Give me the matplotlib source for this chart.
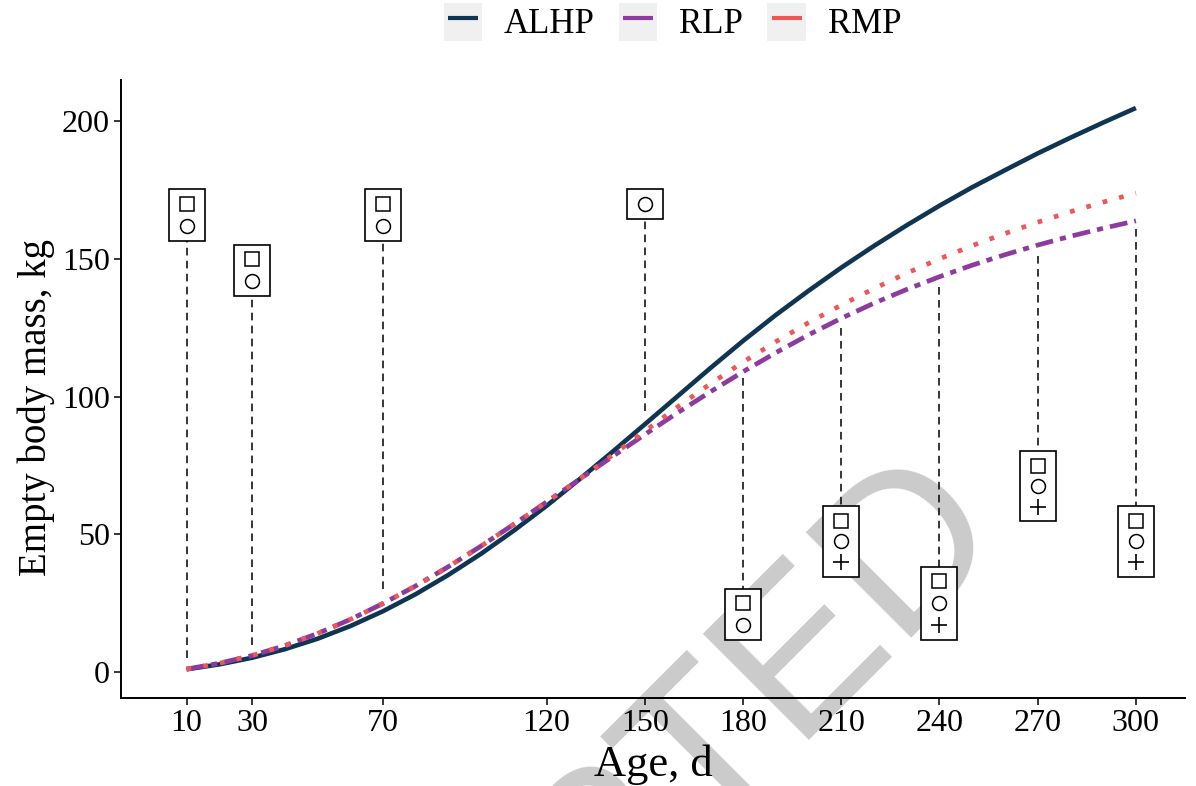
import numpy as np
import matplotlib
matplotlib.use("Agg")
import matplotlib.pyplot as plt
from matplotlib.patches import Patch, Rectangle
from matplotlib.lines import Line2D

plt.rcParams['font.family'] = ['Liberation Serif', 'DejaVu Sans']

# Predicted empty body mass (kg) by age (d)
age = [10, 20, 30, 40, 50, 60, 70, 80, 90, 100, 110, 120, 130, 140, 150,
       160, 170, 180, 190, 200, 210, 220, 230, 240, 250, 260, 270, 280, 290, 300]
alhp = [1.0, 2.8, 5.2, 8.3, 12.1, 16.7, 22.1, 28.3, 35.3, 43.0, 51.4, 60.4, 70.0, 79.9, 90.0,
        100.2, 110.4, 120.3, 129.7, 138.5, 146.9, 154.8, 162.3, 169.4, 176.1, 182.3, 188.4, 194.1, 199.6, 204.9]
rlp = [1.1, 3.2, 6.0, 9.6, 14.0, 19.1, 24.9, 31.3, 38.3, 45.8, 53.7, 61.8, 70.0, 78.2, 86.3,
       94.2, 101.8, 109.1, 116.0, 122.5, 128.5, 134.0, 139.0, 143.6, 147.8, 151.6, 155.1, 158.3, 161.2, 163.9]
rmp = [1.1, 3.2, 6.0, 9.6, 14.0, 19.1, 24.9, 31.3, 38.3, 45.8, 53.7, 61.8, 70.0, 78.7, 87.5,
       96.3, 104.7, 112.6, 120.0, 126.9, 133.3, 139.3, 144.9, 150.1, 154.9, 159.3, 163.4, 167.2, 170.7, 174.0]

# Comparison points: where the segment leaves the curve, and the symbols shown
mark_age = [10, 30, 70, 150, 180, 210, 240, 270, 300]
seg_from = [5, 10, 30, 95, 107, 125, 140, 151, 161]
square_y = [170, 150, 170, np.nan, 25, 55, 33, 75, 55]
circle_y = [162, 142, 162, 170, 17, 47.5, 25, 67.5, 47.5]
plus_y = [np.nan, np.nan, np.nan, np.nan, np.nan, 40, 17, 60, 40]

x_ticks = [10, 30, 70, 120, 150, 180, 210, 240, 270, 300]
y_ticks = [0, 50, 100, 150, 200]

colors = {'ALHP': '#0f3553', 'RLP': '#8e3ba0', 'RMP': '#ef5656'}

fig = plt.figure(figsize=(11.96, 7.86), dpi=100)
ax = fig.add_axes([0.1012, 0.112, 0.8896, 0.786])
ax.set_facecolor('none')

# watermark behind everything
fig.text(0.463, -0.165, 'ACCEPTED', rotation=45, rotation_mode='anchor',
         ha='center', va='center', fontsize=156, color='#cbcbcb',
         family='Liberation Sans', zorder=-5)

# dashed connectors and boxed symbols
box_hw = 5.5
box_pad = 5.3
for x, y0, sq, ci, pl in zip(mark_age, seg_from, square_y, circle_y, plus_y):
    ys = [v for v in (sq, ci, pl) if not np.isnan(v)]
    top, bot = max(ys) + box_pad, min(ys) - box_pad
    y1 = bot if y0 < bot else top
    ax.plot([x, x], [y0, y1], color='black', lw=1.1, ls=(0, (5, 3.5)), zorder=1)
    ax.add_patch(Rectangle((x - box_hw, bot), 2 * box_hw, top - bot,
                           fc='white', ec='black', lw=1.2, zorder=4))

ax.plot(mark_age, square_y, ls='none', marker='s', ms=9.5, mfc='none',
        mec='black', mew=1.1, zorder=5)
ax.plot(mark_age, circle_y, ls='none', marker='o', ms=10, mfc='none',
        mec='black', mew=1.1, zorder=5)
ax.plot(mark_age, plus_y, ls='none', marker='+', ms=12, mec='black',
        mew=1.2, zorder=5)

# growth curves
ax.plot(age, alhp, color=colors['ALHP'], lw=3.3, solid_capstyle='butt',
        solid_joinstyle='round', zorder=3)
ax.plot(age, rlp, color=colors['RLP'], lw=3.4, ls=(0, (3.8, 1.5, 1.3, 1.5)),
        dash_capstyle='butt', zorder=3)
ax.plot(age, rmp, color=colors['RMP'], lw=3.4, ls=(0, (1, 2.6)),
        dash_capstyle='butt', zorder=3)

ax.set_xlim(-10, 315)
ax.set_ylim(-9.4, 215)
ax.set_xticks(x_ticks)
ax.set_yticks(y_ticks)
ax.tick_params(direction='out', length=5, width=1.1, pad=3, labelsize=23,
               colors='black')
for side in ('top', 'right'):
    ax.spines[side].set_visible(False)
for side in ('left', 'bottom'):
    ax.spines[side].set_linewidth(1.4)

ax.set_xlabel('Age, d', fontsize=32)
ax.set_ylabel('Empty body mass, kg', fontsize=28)
ax.xaxis.set_label_coords(0.5, -0.076)
ax.yaxis.set_label_coords(-0.062, 0.47)

handles = [(Patch(fc='#f0f0f0', ec='none'),
            Line2D([], [], ls='none', marker='_', ms=22, mew=3, color=c))
           for c in colors.values()]
fig.legend(handles, list(colors.keys()), loc='center',
           bbox_to_anchor=(0.5623, 1 - 22 / 786), ncol=3, frameon=False,
           fontsize=25, handlelength=1.1, handleheight=1.31,
           handletextpad=0.63, columnspacing=0.7, borderpad=0, borderaxespad=0)

fig.savefig('out.png', dpi=100)
